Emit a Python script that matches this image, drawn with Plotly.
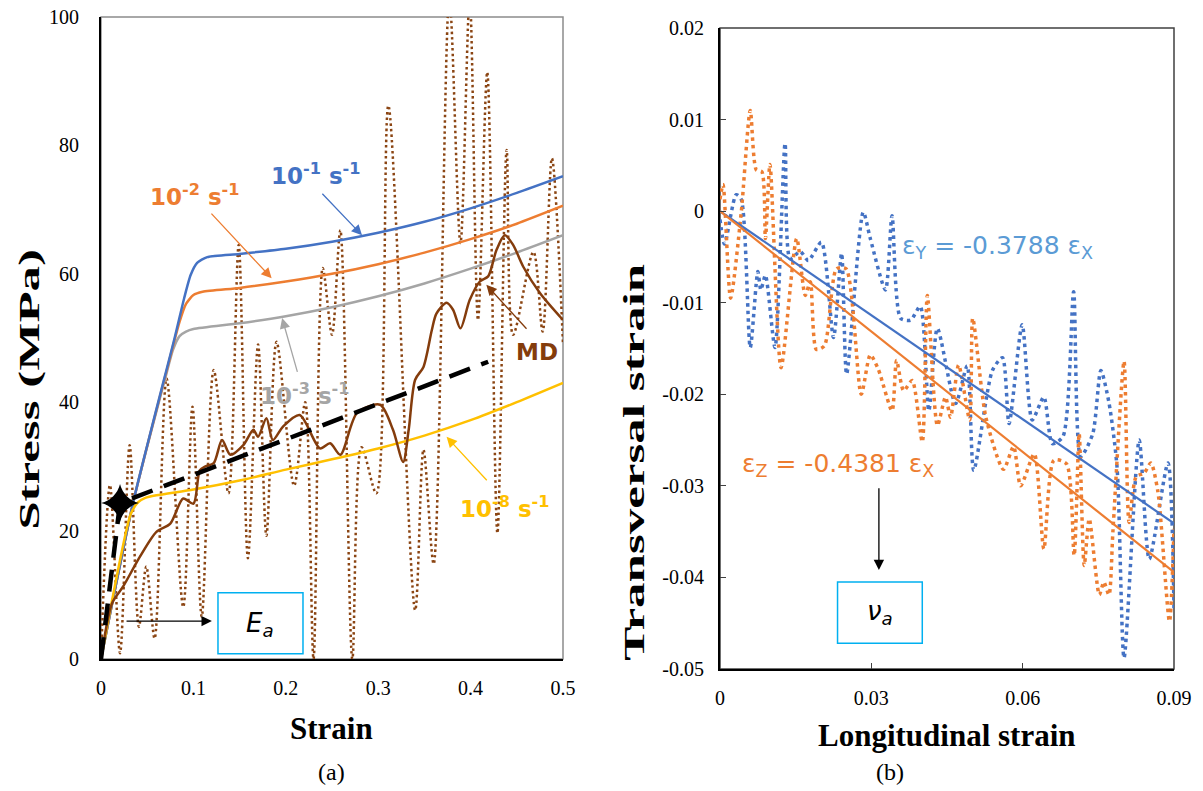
import plotly.graph_objects as go

# ---------------- Panel (a): stress-strain ----------------
blue_strain = [0, 0.035, 0.08, 0.09, 0.097, 0.104, 0.115, 0.15, 0.2, 0.25, 0.3, 0.35, 0.4, 0.45, 0.5]
blue_stress = [0, 24.5, 50.2, 56.2, 59.8, 61.7, 62.6, 63.1, 63.9, 65.0, 66.4, 68.1, 70.2, 72.6, 75.2]

orange_strain = [0, 0.035, 0.075, 0.085, 0.092, 0.1, 0.11, 0.15, 0.2, 0.25, 0.3, 0.35, 0.4, 0.45, 0.5]
orange_stress = [0, 24.5, 47.1, 52.5, 55.3, 56.7, 57.2, 57.8, 58.8, 60.0, 61.5, 63.3, 65.4, 67.8, 70.6]

gray_strain = [0, 0.035, 0.07, 0.078, 0.085, 0.092, 0.1, 0.15, 0.2, 0.25, 0.3, 0.35, 0.4, 0.45, 0.5]
gray_stress = [0, 24.5, 44.0, 48.2, 50.3, 51.0, 51.4, 52.3, 53.4, 54.8, 56.5, 58.5, 60.8, 63.3, 66.0]

yellow_strain = [0, 0.032, 0.04, 0.048, 0.06, 0.1, 0.15, 0.2, 0.25, 0.3, 0.35, 0.4, 0.45, 0.5]
yellow_stress = [0, 22.5, 24.4, 25.1, 25.5, 26.4, 27.8, 29.5, 31.1, 32.8, 34.8, 37.2, 40.0, 43.0]

md_strain = [0, 0.012, 0.024, 0.042, 0.060, 0.075, 0.089, 0.100, 0.107, 0.113, 0.122, 0.131,
             0.140, 0.154, 0.165, 0.170, 0.179, 0.186, 0.197, 0.215, 0.237, 0.248, 0.259, 0.277,
             0.302, 0.316, 0.327, 0.333, 0.340, 0.349, 0.358, 0.363, 0.374, 0.381, 0.389, 0.399,
             0.410, 0.419, 0.428, 0.437, 0.446, 0.457, 0.475, 0.5]
md_stress = [0, 8.7, 11.3, 15.9, 19.8, 21.1, 25.0, 24.2, 29.4, 30.0, 30.5, 34.1,
             31.8, 33.3, 35.7, 34.6, 37.5, 34.1, 36.2, 38.0, 32.8, 33.6, 31.8, 38.3,
             39.6, 35.7, 30.7, 35.7, 43.5, 45.5, 51.2, 53.8, 55.5, 54.4, 51.5, 55.9,
             58.8, 59.6, 63.7, 66.0, 64.5, 61.1, 57.0, 52.8]

mdraw_strain = [0, 0.0097, 0.0206, 0.031, 0.041, 0.049, 0.058, 0.071, 0.089, 0.099, 0.109, 0.122,
                0.138, 0.149, 0.159, 0.170, 0.179, 0.190, 0.209, 0.221, 0.230, 0.240, 0.250, 0.259,
                0.272, 0.282, 0.298, 0.311, 0.340, 0.349, 0.360, 0.377, 0.389, 0.399, 0.408, 0.418,
                0.429, 0.439, 0.446, 0.468, 0.478, 0.488, 0.5]
mdraw_stress = [0, 27.1, 0.9, 33.3, 5.0, 14.4, 3.2, 43.7, 8.1, 39.3, 6.6, 45.0,
                25.8, 64.5, 15.7, 49.0, 19.2, 49.4, 27.0, 40.0, 0, 60.9, 50.5, 66.8,
                0, 33.0, 25.8, 86.2, 7.6, 32.6, 14.8, 103, 64.8, 103, 52.8, 91.4,
                19.6, 79.3, 50.5, 63.4, 51.0, 78.0, 49.0]

ea_strain = [0, 0.0206, 0.419]
ea_stress = [0, 24.3, 46.3]
star_strain = [0.0206]
star_stress = [24.3]

a_xticks = [0, 0.1, 0.2, 0.3, 0.4, 0.5]
a_xticktext = ["0", "0.1", "0.2", "0.3", "0.4", "0.5"]
a_yticks = [0, 20, 40, 60, 80, 100]

# ---------------- Panel (b): transversal vs longitudinal ----------------
ey_long = [0, 0.0009, 0.0032, 0.0042, 0.006, 0.0075, 0.0081, 0.009, 0.0109, 0.0129, 0.0139,
           0.0159, 0.0175, 0.0201, 0.0225, 0.0241, 0.0251, 0.0284, 0.0298, 0.0328, 0.0341,
           0.0358, 0.0378, 0.0397, 0.0414, 0.0431, 0.0467, 0.049, 0.0503, 0.054, 0.056,
           0.0573, 0.0599, 0.0619, 0.0642, 0.0659, 0.068, 0.0701, 0.0715, 0.0739, 0.0755,
           0.0771, 0.0787, 0.0801, 0.0831, 0.0851, 0.0888, 0.09]
ey_trans = [-0.0009, -0.0036, 0.0018, 0.0013, -0.0149, -0.0066, -0.0086, -0.007, -0.0149, 0.0074, -0.0052,
            -0.0044, -0.0054, -0.0034, -0.0138, -0.0046, -0.0178, -0.0001, -0.003, -0.0086, -0.0005,
            -0.0117, -0.0119, -0.0104, -0.0218, -0.0128, -0.021, -0.0169, -0.0283, -0.0174, -0.016,
            -0.0232, -0.0124, -0.0228, -0.0203, -0.0254, -0.0246, -0.0088, -0.0268, -0.0243, -0.0174,
            -0.0209, -0.0279, -0.0488, -0.025, -0.038, -0.0275, -0.0434]

ez_long = [0, 0.0006, 0.0021, 0.0042, 0.006, 0.0072, 0.0083, 0.009, 0.0099, 0.0121, 0.0152,
           0.0169, 0.0179, 0.0191, 0.0207, 0.0231, 0.025, 0.028, 0.0298, 0.0314, 0.0341,
           0.035, 0.0364, 0.0381, 0.0401, 0.0411, 0.0431, 0.0447, 0.0457, 0.0473, 0.0495,
           0.0501, 0.0527, 0.0562, 0.0582, 0.0596, 0.0623, 0.0642, 0.0662, 0.0687, 0.0702,
           0.0712, 0.0722, 0.0732, 0.0752, 0.0761, 0.0771, 0.0779, 0.0801, 0.0811, 0.0825,
           0.0841, 0.0854, 0.0868, 0.0891, 0.09]
ez_trans = [0.0013, 0.0029, -0.0095, -0.0002, 0.011, 0.0045, 0.0043, -0.003, 0.0051, -0.0171, -0.003,
            -0.0092, -0.0077, -0.0151, -0.0147, -0.0063, -0.0063, -0.02, -0.0157, -0.0173, -0.0218,
            -0.0163, -0.0196, -0.0185, -0.0252, -0.0092, -0.0234, -0.0203, -0.0225, -0.0168, -0.0228,
            -0.0117, -0.0225, -0.0282, -0.0257, -0.03, -0.0265, -0.0369, -0.0272, -0.0276, -0.0376,
            -0.0243, -0.0387, -0.0336, -0.0419, -0.0405, -0.0419, -0.0349, -0.0164, -0.034, -0.029,
            -0.0286, -0.0275, -0.0306, -0.0448, -0.0347]

fit_long = [0, 0.09]
slope_y = -0.3788
slope_z = -0.4381
fit_y = [slope_y * v for v in fit_long]
fit_z = [slope_z * v for v in fit_long]

b_xticks = [0, 0.03, 0.06, 0.09]
b_xticktext = ["0", "0.03", "0.06", "0.09"]
b_yticks = [0.02, 0.01, 0, -0.01, -0.02, -0.03, -0.04, -0.05]
b_yticktext = ["0.02", "0.01", "0", "-0.01", "-0.02", "-0.03", "-0.04", "-0.05"]

# ---------------- Figure ----------------
C_BLUE = "#4472C4"
C_ORANGE = "#ED7D31"
C_GRAY = "#A5A5A5"
C_YELLOW = "#FFC000"
C_BROWN = "#843C0C"
C_BROWN_DOT = "#8B4513"
C_CYAN = "#00B0F0"

fig = go.Figure()

fig.add_trace(go.Scatter(x=mdraw_strain, y=mdraw_stress, mode="lines", xaxis="x", yaxis="y",
                         line=dict(color=C_BROWN_DOT, width=2.5, dash="2.5px,3px", shape="spline", smoothing=0.9)))
fig.add_trace(go.Scatter(x=gray_strain, y=gray_stress, mode="lines", xaxis="x", yaxis="y",
                         line=dict(color=C_GRAY, width=2.5, shape="spline", smoothing=0.6)))
fig.add_trace(go.Scatter(x=orange_strain, y=orange_stress, mode="lines", xaxis="x", yaxis="y",
                         line=dict(color=C_ORANGE, width=2.5, shape="spline", smoothing=0.6)))
fig.add_trace(go.Scatter(x=blue_strain, y=blue_stress, mode="lines", xaxis="x", yaxis="y",
                         line=dict(color=C_BLUE, width=2.5, shape="spline", smoothing=0.6)))
fig.add_trace(go.Scatter(x=yellow_strain, y=yellow_stress, mode="lines", xaxis="x", yaxis="y",
                         line=dict(color=C_YELLOW, width=2.5, shape="spline", smoothing=0.6)))
fig.add_trace(go.Scatter(x=md_strain, y=md_stress, mode="lines", xaxis="x", yaxis="y",
                         line=dict(color=C_BROWN, width=2.5, shape="spline", smoothing=0.8)))
fig.add_trace(go.Scatter(x=ea_strain, y=ea_stress, mode="lines", xaxis="x", yaxis="y",
                         line=dict(color="black", width=4.5, dash="22px,12px")))
fig.add_trace(go.Scatter(x=star_strain, y=star_stress, mode="markers", xaxis="x", yaxis="y",
                         marker=dict(symbol="star-diamond", size=27, color="black")))

fig.add_trace(go.Scatter(x=ey_long, y=ey_trans, mode="lines", xaxis="x2", yaxis="y2",
                         line=dict(color=C_BLUE, width=3.5, dash="3.5px,4px", shape="spline", smoothing=0.7)))
fig.add_trace(go.Scatter(x=ez_long, y=ez_trans, mode="lines", xaxis="x2", yaxis="y2",
                         line=dict(color=C_ORANGE, width=3.5, dash="3.5px,4px", shape="spline", smoothing=0.7)))
fig.add_trace(go.Scatter(x=fit_long, y=fit_y, mode="lines", xaxis="x2", yaxis="y2",
                         line=dict(color=C_BLUE, width=2.2)))
fig.add_trace(go.Scatter(x=fit_long, y=fit_z, mode="lines", xaxis="x2", yaxis="y2",
                         line=dict(color=C_ORANGE, width=2.2)))

# the page's body margin is removed in the post script, so the figure fills the window
W, H = 1203, 791
def dx(px):
    return px / W
def dy(py):
    return 1 - py / H

TICKFONT = dict(family="Liberation Serif", size=20, color="black")

fig.update_layout(
    width=W, height=H, showlegend=False,
    paper_bgcolor="white", plot_bgcolor="white",
    margin=dict(l=0, r=0, t=0, b=0),
    xaxis=dict(domain=[dx(101), dx(563)], range=[0, 0.5], tickvals=a_xticks, ticktext=a_xticktext,
               showgrid=False, zeroline=False, showline=True, linecolor="black", linewidth=2,
               ticks="", tickfont=TICKFONT, ticklabelstandoff=10, automargin=False, anchor="y",
               ticklabeloverflow="allow"),
    yaxis=dict(domain=[dy(659), dy(17)], range=[0, 100], tickvals=a_yticks,
               showgrid=False, zeroline=False, showline=True, linecolor="black", linewidth=2,
               ticks="", tickfont=TICKFONT, ticklabelstandoff=16, automargin=False, anchor="x",
               ticklabeloverflow="allow"),
    xaxis2=dict(domain=[dx(720), dx(1174)], range=[0, 0.09], tickvals=b_xticks, ticktext=b_xticktext,
                showgrid=False, zeroline=False, showline=True, linecolor="black", linewidth=2,
                ticks="inside", ticklen=6, tickcolor="#404040", tickfont=TICKFONT, ticklabelstandoff=10,
                automargin=False, anchor="y2", ticklabeloverflow="allow"),
    yaxis2=dict(domain=[dy(669), dy(28)], range=[-0.05, 0.02], tickvals=b_yticks, ticktext=b_yticktext,
                showgrid=False, zeroline=False, showline=True, linecolor="black", linewidth=2,
                ticks="inside", ticklen=6, tickcolor="#404040", tickfont=TICKFONT, ticklabelstandoff=10,
                automargin=False, anchor="x2", ticklabeloverflow="allow"),
)

fig.add_shape(type="rect", xref="x domain", yref="y domain", x0=0, x1=1, y0=0, y1=1,
              line=dict(color="#8C8C8C", width=1.5), layer="below")
fig.add_shape(type="rect", xref="x2 domain", yref="y2 domain", x0=0, x1=1, y0=0, y1=1,
              line=dict(color="#404040", width=1.5), layer="below")

fig.add_shape(type="rect", xref="x", yref="y", x0=0.1266, x1=0.2186, y0=0.8, y1=10.3,
              line=dict(color=C_CYAN, width=1.5), fillcolor="white", layer="above")
fig.add_shape(type="rect", xref="x2", yref="y2", x0=0.0233, x1=0.0401, y0=-0.0472, y1=-0.0405,
              line=dict(color=C_CYAN, width=1.5), fillcolor="white", layer="above")

LBL = "DejaVu Sans"
ann = []

def label(x, y, text, color, xref="x", yref="y", size=23, bold=True, xanchor="center", family=LBL):
    t = "<b>" + text + "</b>" if bold else text
    ann.append(dict(x=x, y=y, xref=xref, yref=yref, text=t, showarrow=False, xanchor=xanchor,
                    yanchor="middle", font=dict(family=family, size=size, color=color)))

def arrow(x_head, y_head, x_tail, y_tail, color, xref="x", yref="y", width=1.3, size=1.6):
    ann.append(dict(x=x_head, y=y_head, ax=x_tail, ay=y_tail, xref=xref, yref=yref,
                    axref=xref, ayref=yref, text="", showarrow=True, arrowhead=2,
                    arrowsize=size, arrowwidth=width, arrowcolor=color))

label(0.233, 75.6, "10<sup>-1</sup> s<sup>-1</sup>", C_BLUE)
arrow(0.2825, 66.0, 0.238, 72.7, C_BLUE)
label(0.1017, 72.3, "10<sup>-2</sup> s<sup>-1</sup>", C_ORANGE)
arrow(0.1847, 59.3, 0.118, 69.6, C_ORANGE)
label(0.2208, 41.3, "10<sup>-3</sup> s<sup>-1</sup>", C_GRAY)
arrow(0.196, 53.1, 0.213, 44.5, C_GRAY)
label(0.437, 23.7, "10<sup>-8</sup> s<sup>-1</sup>", C_YELLOW)
arrow(0.374, 34.6, 0.419, 27.6, C_YELLOW)
label(0.472, 47.8, "MD", C_BROWN)
arrow(0.417, 58.3, 0.462, 51.2, C_BROWN)
label(0.1726, 5.4, "<i>E<sub>a</sub></i>", "black", bold=False, size=26)
arrow(0.120, 5.9, 0.026, 5.9, "black", width=1.3)

label(0.0357, -0.0039, "ε<sub>Y</sub> = -0.3788 ε<sub>X</sub>", "#5B9BD5", xref="x2", yref="y2",
      bold=False, size=25, xanchor="left")
label(0.0040, -0.0277, "ε<sub>Z</sub> = -0.4381 ε<sub>X</sub>", C_ORANGE, xref="x2", yref="y2",
      bold=False, size=25, xanchor="left")
arrow(0.0315, -0.0392, 0.0315, -0.0301, "black", xref="x2", yref="y2")
label(0.0317, -0.0438, "<i>ν<sub>a</sub></i>", "black", xref="x2", yref="y2", bold=False, size=26)

TITLEF = dict(family="Liberation Serif", size=31, color="black")
YTITLEF = dict(family="Liberation Serif", size=30, color="black")
ann.append(dict(x=dx(331), y=dy(728), xref="paper", yref="paper", text="<b>Strain</b>", showarrow=False,
                font=TITLEF, xanchor="center", yanchor="middle"))
ann.append(dict(x=dx(29), y=dy(390), xref="paper", yref="paper", text="<b>Stress (MPa)</b>", showarrow=False,
                font=YTITLEF, textangle=-90, xanchor="center", yanchor="middle"))
ann.append(dict(x=dx(947), y=dy(735), xref="paper", yref="paper", text="<b>Longitudinal strain</b>",
                showarrow=False, font=TITLEF, xanchor="center", yanchor="middle"))
ann.append(dict(x=dx(633), y=dy(462), xref="paper", yref="paper", text="<b>Transversal strain</b>",
                showarrow=False, font=YTITLEF, textangle=-90, xanchor="center", yanchor="middle"))
ann.append(dict(x=dx(331), y=dy(772), xref="paper", yref="paper", text="(a)", showarrow=False,
                font=dict(family="Liberation Serif", size=24, color="black"), xanchor="center", yanchor="middle"))
ann.append(dict(x=dx(890), y=dy(772), xref="paper", yref="paper", text="(b)", showarrow=False,
                font=dict(family="Liberation Serif", size=24, color="black"), xanchor="center", yanchor="middle"))

fig.update_layout(annotations=ann)

post = """
document.body.style.margin = '0';
document.body.style.overflow = 'hidden';
var gd = document.getElementById('{plot_id}');
var texts = gd.querySelectorAll('g.annotation text.annotation-text');
texts.forEach(function(t){
  var s = t.textContent;
  if (s === 'Stress (MPa)' || s === 'Transversal strain') {
    var bb = t.getBBox();
    var cx = bb.x + bb.width / 2, cy = bb.y + bb.height / 2;
    t.setAttribute('transform', 'translate(' + cx + ',' + cy + ') scale(1.7,1) translate(' + (-cx) + ',' + (-cy) + ')');
  }
});
"""

fig.write_html("out.html", post_script=post, config={"displayModeBar": False})
